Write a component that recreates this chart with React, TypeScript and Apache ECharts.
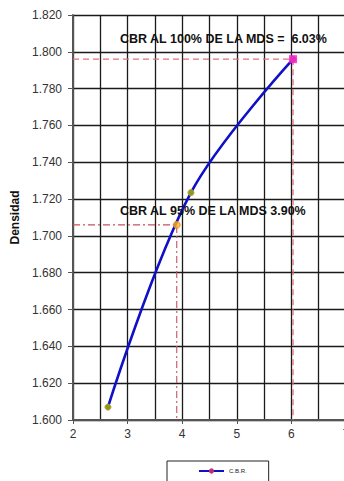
import React, { useEffect, useRef } from "react";
import * as echarts from "echarts";

// Compaction test: CBR (%) against dry density
const cbrValues = [2.64, 4.16, 6.03];
const densityValues = [1.607, 1.7235, 1.796];

// Maximum dry density (MDS) and the CBR read at 100% and 95% of it
const mds = 1.796;
const cbr100 = 6.03;
const density95 = 1.706;
const cbr95 = 3.9;

const xMin = 2;
const xMax = 7;
const yMin = 1.6;
const yMax = 1.82;
const yStep = 0.02;

const seriesName = "C.B.R.";
const yAxisTitle = "Densidad";

const FONT = "'Liberation Sans', Arial, sans-serif";

export default function App() {
  const ref = useRef<HTMLDivElement>(null);

  useEffect(() => {
    if (!ref.current) return;
    const chart = echarts.init(ref.current, undefined, { renderer: "svg" });

    const curve = cbrValues.map((x, i) => [x, densityValues[i]]);

    const option: any = {
      animation: false,
      backgroundColor: "#ffffff",
      grid: {
        left: 73,
        top: 15,
        width: 273,
        height: 405,
        containLabel: false,
        outerBoundsMode: "none",
      },
      xAxis: {
        type: "value",
        min: xMin,
        max: xMax,
        interval: 1,
        axisLine: { show: true, lineStyle: { color: "#555", width: 2 } },
        axisTick: { show: true, length: 4, lineStyle: { color: "#555" } },
        axisLabel: { color: "#333", fontSize: 12, fontFamily: FONT, margin: 8 },
        splitLine: { show: true, lineStyle: { color: "#1a1a1a", width: 1.3 } },
        minorTick: { show: false, splitNumber: 2 },
        minorSplitLine: { show: true, lineStyle: { color: "#1a1a1a", width: 1.3 } },
      },
      yAxis: {
        type: "value",
        min: yMin,
        max: yMax,
        interval: yStep,
        name: yAxisTitle,
        nameLocation: "middle",
        nameGap: 50,
        nameRotate: 90,
        nameTextStyle: { fontWeight: "bold", fontSize: 12, color: "#111", fontFamily: FONT },
        axisLine: { show: true, lineStyle: { color: "#555", width: 2 } },
        axisTick: { show: true, inside: false, length: 5, lineStyle: { color: "#555" } },
        axisLabel: {
          color: "#333",
          fontSize: 12,
          fontFamily: FONT,
          margin: 11,
          formatter: (v: number) => v.toFixed(3),
        },
        splitLine: { show: true, lineStyle: { color: "#1a1a1a", width: 1.3 } },
      },
      legend: {
        left: 167,
        top: 461,
        orient: "horizontal",
        padding: [7, 22, 14, 31],
        borderColor: "#222",
        borderWidth: 1,
        backgroundColor: "#fff",
        itemWidth: 25,
        itemHeight: 4,
        itemGap: 4,
        textStyle: { fontSize: 6, color: "#222", fontFamily: FONT },
        data: [{ name: seriesName, itemStyle: { color: "#c03070", borderColor: "#c03070" } }],
      },
      series: [
        // Guide lines at 100% of MDS
        {
          type: "line",
          silent: true,
          symbol: "none",
          data: [
            [xMin, mds],
            [cbr100, mds],
            [cbr100, yMin],
          ],
          lineStyle: { color: "#e0707a", width: 1.3, type: [6, 4] },
          z: 3,
        },
        // Guide lines at 95% of MDS
        {
          type: "line",
          silent: true,
          symbol: "none",
          data: [
            [xMin, density95],
            [cbr95, density95],
            [cbr95, yMin],
          ],
          lineStyle: { color: "#c8505e", width: 1.1, type: [7, 3, 2, 3] },
          z: 3,
        },
        {
          name: seriesName,
          type: "line",
          smooth: 0.35,
          data: curve,
          symbol: "circle",
          symbolSize: 6,
          showSymbol: true,
          lineStyle: { color: "#1010c8", width: 2.6 },
          itemStyle: { color: "#8a9a1e", borderColor: "#b8a030", borderWidth: 1 },
          z: 5,
        },
        {
          type: "scatter",
          silent: true,
          data: [[cbr95, density95]],
          symbol: "circle",
          symbolSize: 7,
          itemStyle: { color: "#ffb020", borderColor: "#e08a10", borderWidth: 1 },
          z: 6,
        },
        {
          type: "scatter",
          silent: true,
          data: [[cbr100, mds]],
          symbol: "rect",
          symbolSize: 8,
          itemStyle: { color: "#ff10e0" },
          z: 6,
        },
      ],
      graphic: [
        {
          type: "text",
          left: 120,
          top: 32,
          z: 10,
          style: {
            text: `CBR AL 100% DE LA MDS =  ${cbr100.toFixed(2)}%`,
            font: `bold 12.5px ${FONT}`,
            fill: "#111",
          },
        },
        {
          type: "text",
          left: 120,
          top: 204,
          z: 10,
          style: {
            text: `CBR AL 95% DE LA MDS ${cbr95.toFixed(2)}%`,
            font: `bold 12.5px ${FONT}`,
            fill: "#111",
          },
        },
      ],
    };

    chart.setOption(option);
    return () => chart.dispose();
  }, []);

  return <div ref={ref} style={{ width: 344, height: 481, position: "absolute", left: 0, top: 0 }} />;
}
